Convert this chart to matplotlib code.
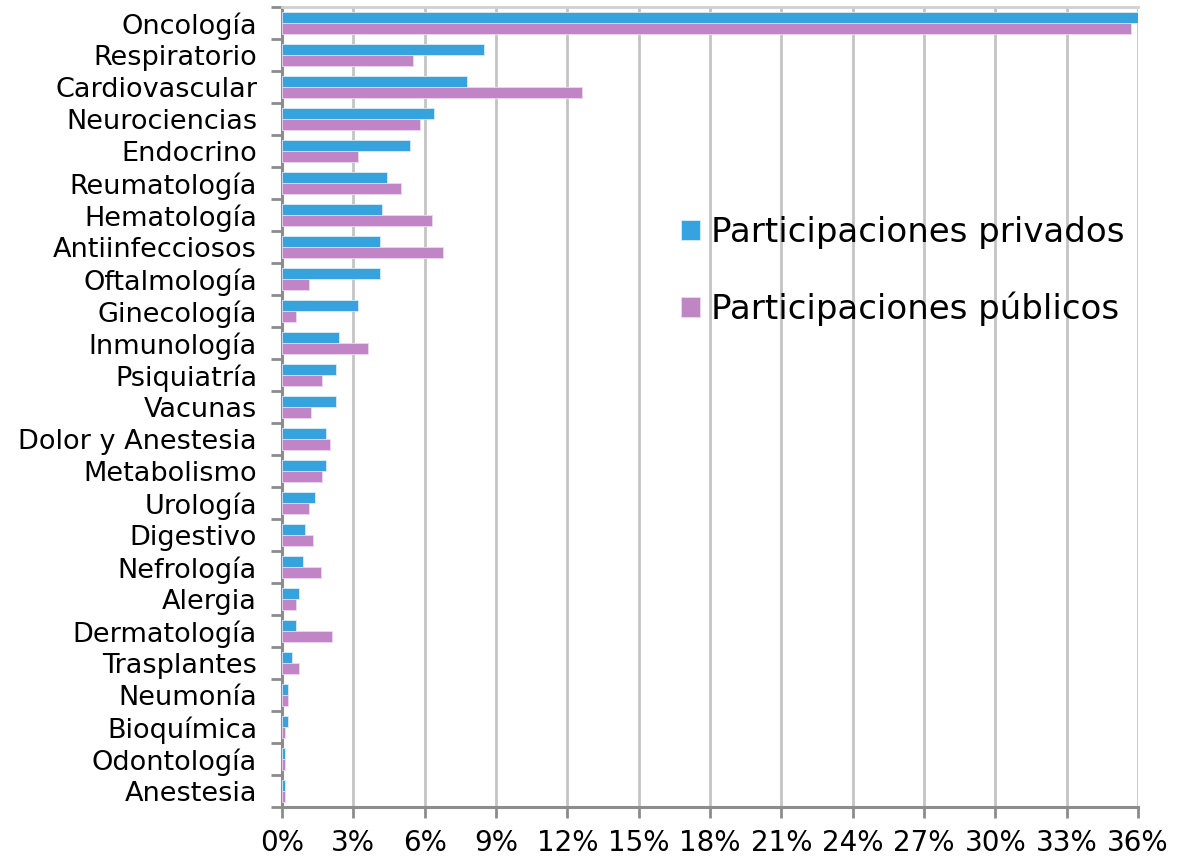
import numpy as np
import matplotlib.pyplot as plt
from matplotlib.ticker import FixedLocator, FuncFormatter

# areas terapéuticas, de arriba a abajo
categorias = ['Oncología', 'Respiratorio', 'Cardiovascular', 'Neurociencias', 'Endocrino',
              'Reumatología', 'Hematología', 'Antiinfecciosos', 'Oftalmología', 'Ginecología',
              'Inmunología', 'Psiquiatría', 'Vacunas', 'Dolor y Anestesia', 'Metabolismo',
              'Urología', 'Digestivo', 'Nefrología', 'Alergia', 'Dermatología',
              'Trasplantes', 'Neumonía', 'Bioquímica', 'Odontología', 'Anestesia']

# porcentajes
privados = [36.1, 8.5, 7.8, 6.4, 5.4, 4.4, 4.2, 4.1, 4.1, 3.2,
            2.4, 2.25, 2.25, 1.85, 1.85, 1.37, 0.97, 0.9, 0.73, 0.58,
            0.42, 0.27, 0.27, 0.11, 0.11]
publicos = [35.7, 5.5, 12.6, 5.8, 3.2, 5.0, 6.3, 6.75, 1.14, 0.58,
            3.6, 1.7, 1.2, 2.0, 1.7, 1.14, 1.3, 1.62, 0.58, 2.1,
            0.73, 0.27, 0.11, 0.11, 0.11]

azul = '#36A2DF'
rosa = '#C085C5'

fig = plt.figure(figsize=(11.86, 8.57), dpi=100)
ax = fig.add_axes([0.2378, 0.0583, 0.7217, 0.9335])

y = np.arange(len(categorias))
h = 0.33
ax.barh(y - h / 2, privados, height=h, color=azul, edgecolor='#D6ECF8', linewidth=0.6,
        label='Participaciones privados', zorder=3)
ax.barh(y + h / 2, publicos, height=h, color=rosa, edgecolor='#EBDAEE', linewidth=0.6,
        label='Participaciones públicos', zorder=3)

ax.set_ylim(len(categorias) - 0.5, -0.5)
ax.set_xlim(0, 36)

ax.set_yticks(y)
ax.set_yticklabels(categorias, fontsize=19.5)
ax.yaxis.set_minor_locator(FixedLocator(np.arange(-0.5, len(categorias), 1)))
ax.tick_params(axis='y', which='major', length=0, pad=18)
ax.tick_params(axis='y', which='minor', length=8, width=2, color='#8C8C8C')

ax.set_xticks(np.arange(0, 37, 3))
ax.xaxis.set_major_formatter(FuncFormatter(lambda v, p: f'{int(v)}%'))
ax.tick_params(axis='x', length=8, width=2, color='#8C8C8C', labelsize=20, pad=8)

ax.grid(axis='x', color='#C4C4C4', linewidth=2, zorder=0)
ax.set_axisbelow(True)

for s in ['left', 'bottom']:
    ax.spines[s].set_color('#8C8C8C')
    ax.spines[s].set_linewidth(2.2)
ax.spines['top'].set_color('#D0D0D0')
ax.spines['top'].set_linewidth(2)
ax.spines['right'].set_visible(False)

ax.legend(loc='center left', bbox_to_anchor=(0.43, 0.67), frameon=False, fontsize=24.5,
          handlelength=0.56, handleheight=0.56, handletextpad=0.32, labelspacing=1.25)

fig.savefig('out.png', dpi=100)
